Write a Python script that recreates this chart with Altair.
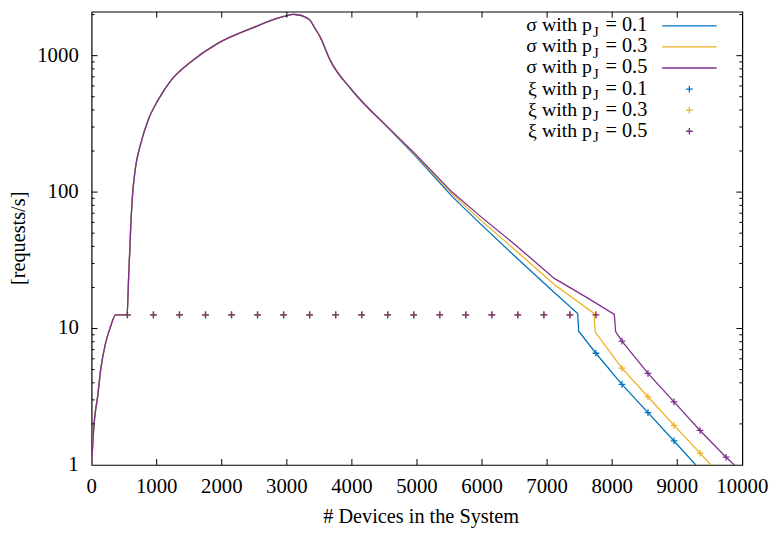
import altair as alt
import pandas as pd

# ---------------- data ----------------
series = ["σ with pJ = 0.1", "σ with pJ = 0.3", "σ with pJ = 0.5"]
colors = ["#0072bd", "#edb120", "#7e2f8e"]

# part shared by all three sigma curves
x_common = [0, 20, 38, 60, 88, 140, 216, 290, 368, 545, 560, 570, 586, 596, 621, 672, 748, 875,
            1027, 1229, 1533, 1939, 2446, 2953, 3105, 3156, 3250, 3359, 3435, 3511, 3663, 3992, 4423]
y_common = [1.0, 1.5, 2.0, 2.5, 3.06, 5.04, 7.87, 10.3, 12.6, 12.6, 18, 25, 37, 49, 85, 149, 220, 343,
            478, 667, 906, 1230, 1578, 1938, 2004, 1995, 1950, 1812, 1578, 1374, 931, 565, 343]

# tails after they split
x_tail_01 = [4423, 4981, 5539, 6000, 6500, 7110, 7470, 7485, 7750, 8150, 8550, 8950, 9285]
y_tail_01 = [343, 183, 93, 57, 34, 18.4, 12.9, 9.55, 6.59, 3.9, 2.42, 1.5, 1.0]
x_tail_03 = [4423, 4981, 5539, 6000, 6500, 7110, 7720, 7740, 8150, 8550, 8950, 9350, 9516]
y_tail_03 = [343, 187, 97, 61, 38, 21, 12.9, 9.43, 5.12, 3.16, 1.95, 1.22, 1.0]
x_tail_05 = [4423, 4981, 5539, 6000, 6500, 7110, 7600, 8033, 8053, 8150, 8550, 8950, 9350, 9750, 9878]
y_tail_05 = [343, 189, 100, 65, 41.5, 23.3, 17.0, 12.7, 9.5, 8.09, 4.69, 2.9, 1.79, 1.14, 1.0]

# xi markers
xi_x_01 = [550, 950, 1350, 1750, 2150, 2550, 2950, 3350, 3750, 4150, 4550, 4950, 5350, 5750, 6150,
           6550, 6950, 7350, 7750, 8150, 8550, 8950]
xi_y_01 = [12.6, 12.6, 12.6, 12.6, 12.6, 12.6, 12.6, 12.6, 12.6, 12.6, 12.6, 12.6, 12.6, 12.6, 12.6,
           12.6, 12.6, 12.6, 6.59, 3.9, 2.42, 1.5]
xi_x_03 = [550, 950, 1350, 1750, 2150, 2550, 2950, 3350, 3750, 4150, 4550, 4950, 5350, 5750, 6150,
           6550, 6950, 7350, 7750, 8150, 8550, 8950, 9350]
xi_y_03 = [12.6, 12.6, 12.6, 12.6, 12.6, 12.6, 12.6, 12.6, 12.6, 12.6, 12.6, 12.6, 12.6, 12.6, 12.6,
           12.6, 12.6, 12.6, 12.6, 5.12, 3.16, 1.95, 1.22]
xi_x_05 = [550, 950, 1350, 1750, 2150, 2550, 2950, 3350, 3750, 4150, 4550, 4950, 5350, 5750, 6150,
           6550, 6950, 7350, 7750, 8150, 8550, 8950, 9350, 9750]
xi_y_05 = [12.6, 12.6, 12.6, 12.6, 12.6, 12.6, 12.6, 12.6, 12.6, 12.6, 12.6, 12.6, 12.6, 12.6, 12.6,
           12.6, 12.6, 12.6, 12.6, 8.09, 4.69, 2.9, 1.79, 1.14]

x_ticks = [0, 1000, 2000, 3000, 4000, 5000, 6000, 7000, 8000, 9000, 10000]
x_tick_labels = ["0", "1000", "2000", "3000", "4000", "5000", "6000", "7000", "8000", "9000", "10000"]
y_ticks = [1, 10, 100, 1000]
y_tick_labels = ["1", "10", "100", "1000"]
y_minor = [2, 3, 4, 5, 6, 7, 8, 9, 20, 30, 40, 50, 60, 70, 80, 90,
           200, 300, 400, 500, 600, 700, 800, 900, 2000]

x_title = "# Devices in the System"
y_title = "[requests/s]"
legend_sym = ["σ", "σ", "σ", "ξ", "ξ", "ξ"]
legend_p = ["0.1", "0.3", "0.5", "0.1", "0.3", "0.5"]

# ---------------- tables ----------------
crow, trow = [], []
tails = [(x_tail_01, y_tail_01), (x_tail_03, y_tail_03), (x_tail_05, y_tail_05)]
for s, (xt, yt) in zip(series, tails):
    for i, (a, b) in enumerate(zip(x_common, y_common)):
        crow.append({"series": s, "x": a, "y": b, "i": i})
    for i, (a, b) in enumerate(zip(xt, yt)):
        trow.append({"series": s, "x": a, "y": b, "i": i})
df_common = pd.DataFrame(crow)
df_tail = pd.DataFrame(trow)

prow = []
for s, (xx, yy) in zip(series, [(xi_x_01, xi_y_01), (xi_x_03, xi_y_03), (xi_x_05, xi_y_05)]):
    for a, b in zip(xx, yy):
        prow.append({"series": s, "x": a, "y": b})
df_pts = pd.DataFrame(prow)

# ---------------- chart ----------------
W, H = 657.5, 458
FONT = "Liberation Serif, Times New Roman, Times, serif"
PLUS = "M-1,0L1,0M0,-1L0,1"

xs = alt.Scale(domain=[0, 10000], nice=False, zero=False)
ys = alt.Scale(type="log", domain=[1, 2100], nice=False)
cs = alt.Scale(domain=series, range=colors)

enc = dict(
    x=alt.X("x:Q", scale=xs, axis=None),
    y=alt.Y("y:Q", scale=ys, axis=None),
    color=alt.Color("series:N", scale=cs, legend=None),
    order=alt.Order("i:Q"),
)
common_line = alt.Chart(df_common).mark_line(strokeWidth=1.3, clip=True, interpolate="monotone").encode(**enc)
tail_line = alt.Chart(df_tail).mark_line(strokeWidth=1.3, clip=True).encode(**enc)

points = alt.Chart(df_pts).mark_point(shape=PLUS, filled=False, size=45, strokeWidth=1.3,
                                      opacity=1, clip=True).encode(
    x=alt.X("x:Q", scale=xs, axis=None),
    y=alt.Y("y:Q", scale=ys, axis=None),
    color=alt.Color("series:N", scale=cs, legend=None),
)

# inward ticks on all four sides (gnuplot style)
dfx = pd.DataFrame({"x": x_ticks[1:-1]})
dfy = pd.DataFrame({"y": y_ticks[1:]})
dfym = pd.DataFrame({"y": y_minor})
tk = dict(color="black", strokeWidth=1)
tick_layers = [
    alt.Chart(dfx).mark_rule(**tk).encode(x=alt.X("x:Q", scale=xs, axis=None), y=alt.value(H), y2=alt.value(H - 6)),
    alt.Chart(dfx).mark_rule(**tk).encode(x=alt.X("x:Q", scale=xs, axis=None), y=alt.value(0), y2=alt.value(6)),
    alt.Chart(dfy).mark_rule(**tk).encode(y=alt.Y("y:Q", scale=ys, axis=None), x=alt.value(0), x2=alt.value(6)),
    alt.Chart(dfy).mark_rule(**tk).encode(y=alt.Y("y:Q", scale=ys, axis=None), x=alt.value(W), x2=alt.value(W - 6)),
    alt.Chart(dfym).mark_rule(**tk).encode(y=alt.Y("y:Q", scale=ys, axis=None), x=alt.value(0), x2=alt.value(3)),
    alt.Chart(dfym).mark_rule(**tk).encode(y=alt.Y("y:Q", scale=ys, axis=None), x=alt.value(W), x2=alt.value(W - 3)),
]

# tick labels and axis titles
df_xl = pd.DataFrame({"x": x_ticks, "lab": x_tick_labels})
df_yl = pd.DataFrame({"y": y_ticks, "lab": y_tick_labels})
one = pd.DataFrame({"a": [0]})
label_layers = [
    alt.Chart(df_xl).mark_text(font=FONT, fontSize=21, align="center", baseline="alphabetic", color="black").encode(
        x=alt.X("x:Q", scale=xs, axis=None), y=alt.value(H + 28), text="lab:N"),
    alt.Chart(df_yl).mark_text(font=FONT, fontSize=21, align="right", baseline="middle", color="black").encode(
        y=alt.Y("y:Q", scale=ys, axis=None), x=alt.value(-13), text="lab:N"),
    alt.Chart(one).mark_text(font=FONT, fontSize=20.5, align="center", baseline="alphabetic", color="black").encode(
        x=alt.value(333), y=alt.value(H + 58.5), text=alt.value(x_title)),
    alt.Chart(one).mark_text(font=FONT, fontSize=20.5, align="center", baseline="middle", angle=270,
                             color="black").encode(
        x=alt.value(-73.5), y=alt.value(H / 2), text=alt.value(y_title)),
]

# ---------------- manual gnuplot-style legend ----------------
legend_layers = []
row_y = [14.3, 35.6, 56.9, 78.2, 99.5, 120.8]
for k in range(6):
    ry = row_y[k]
    col = colors[k % 3]
    legend_layers.append(alt.Chart(one).mark_text(font=FONT, fontSize=20, align="right", baseline="alphabetic",
                                                  color="black").encode(
        x=alt.value(505.5), y=alt.value(ry + 5.5), text=alt.value(f"{legend_sym[k]} with p")))
    legend_layers.append(alt.Chart(one).mark_text(font=FONT, fontSize=15, align="left", baseline="alphabetic",
                                                  color="black").encode(
        x=alt.value(506.5), y=alt.value(ry + 11), text=alt.value("J")))
    legend_layers.append(alt.Chart(one).mark_text(font=FONT, fontSize=20.5, align="right", baseline="alphabetic",
                                                  color="black").encode(
        x=alt.value(561.5), y=alt.value(ry + 5.5), text=alt.value(f"= {legend_p[k]}")))
    if k < 3:
        legend_layers.append(alt.Chart(one).mark_rule(color=col, strokeWidth=1.3).encode(
            x=alt.value(576.5), x2=alt.value(631.5), y=alt.value(ry)))
    else:
        legend_layers.append(alt.Chart(one).mark_point(shape=PLUS, filled=False, size=45, strokeWidth=1.3,
                                                       color=col, opacity=1).encode(
            x=alt.value(604), y=alt.value(ry)))

chart = alt.layer(common_line, tail_line, points, *tick_layers, *label_layers, *legend_layers).properties(
    width=W, height=H,
    padding={"left": 84.5, "top": 1, "right": 31, "bottom": 66},
    autosize=alt.AutoSizeParams(type="none"),
).configure_view(
    stroke="black", strokeWidth=1.2
)

chart.save("out.html", embed_options={"renderer": "svg", "actions": False})
